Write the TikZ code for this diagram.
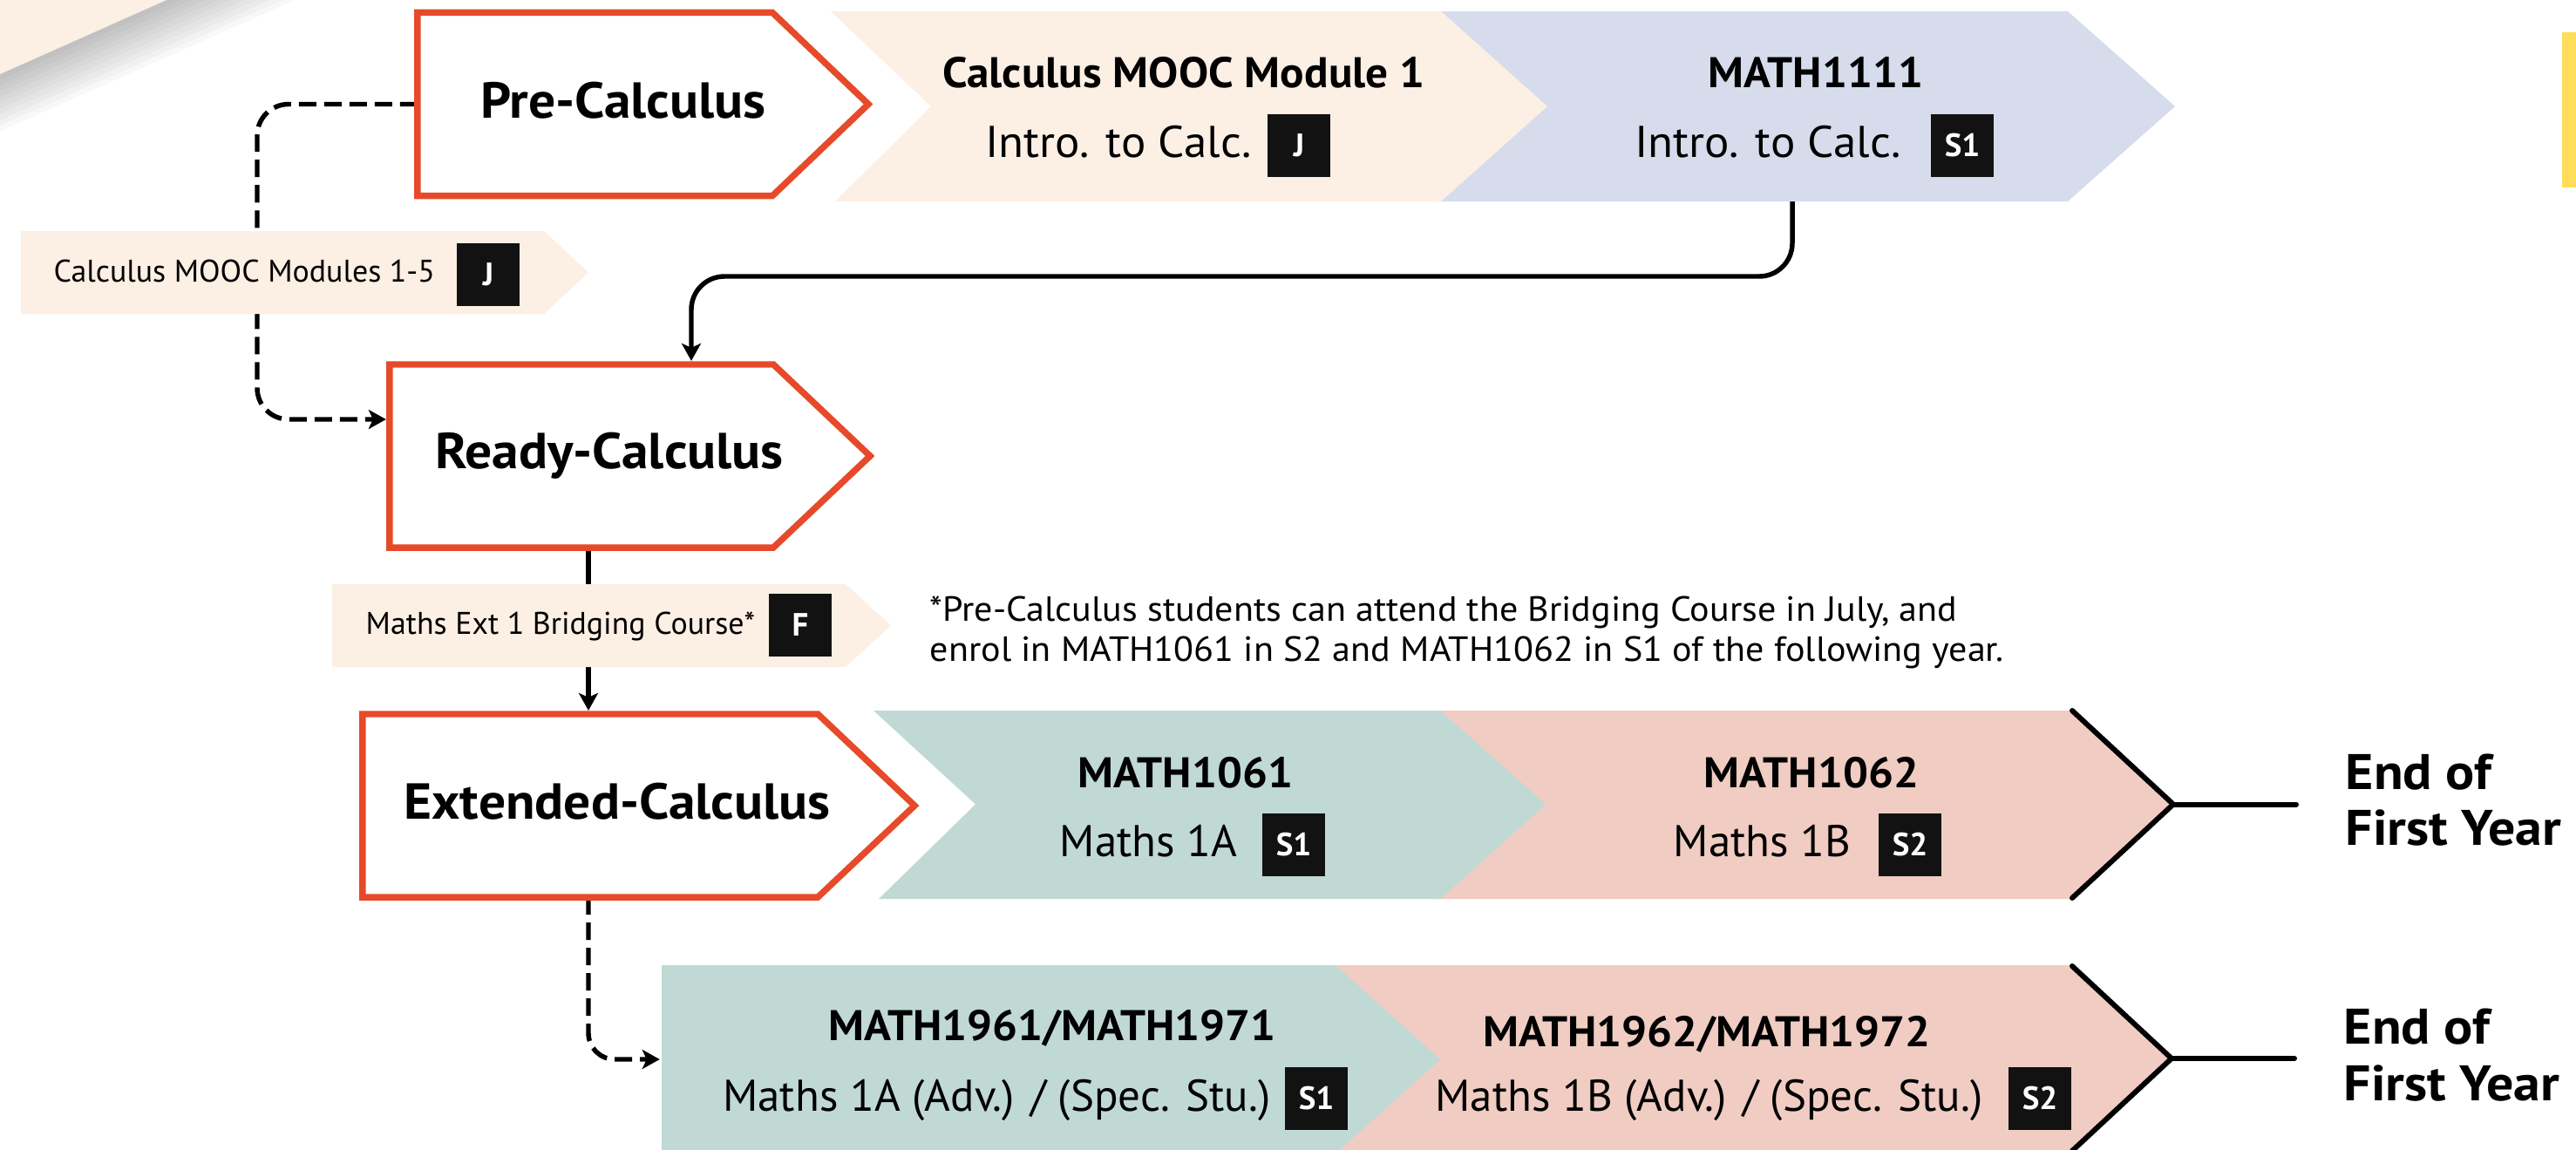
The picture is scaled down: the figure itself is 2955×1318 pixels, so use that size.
\documentclass[tikz,border=0pt]{standalone}
\usepackage{fontspec}
\usepackage{graphicx}
\setmainfont{PT Sans}
\usetikzlibrary{arrows.meta,calc}
\definecolor{ored}{HTML}{E64A2A}
\definecolor{peachc}{HTML}{FCEFE4}
\definecolor{lavc}{HTML}{D6DCEC}
\definecolor{tealc}{HTML}{C0D9D4}
\definecolor{pinkc}{HTML}{F0CCC3}
\definecolor{badgec}{HTML}{121212}
\definecolor{yelc}{HTML}{FFDD5A}
\newcommand{\hsc}[2]{\scalebox{#1}[1]{#2}}
\tikzset{
  boxnode/.style={draw=none, inner sep=0pt, outer sep=0pt, rectangle},
  obox/.style={draw=ored, line width=2.1pt, fill=white, line join=miter},
  bigl/.style={font=\bfseries\fontsize{16.5}{19}\selectfont, anchor=base, inner sep=0pt},
  ctitle/.style={font=\bfseries\fontsize{14}{16}\selectfont, anchor=base, inner sep=0pt},
  csub/.style={font=\fontsize{14.5}{17}\selectfont, anchor=base east, inner sep=0pt},
  smallt/.style={font=\fontsize{10.2}{12}\selectfont, anchor=base west, inner sep=0pt},
  notet/.style={font=\fontsize{11.4}{13}\selectfont, anchor=base west, inner sep=0pt},
  endt/.style={font=\bfseries\fontsize{16.3}{19}\selectfont, anchor=base west, inner sep=0pt},
  badge/.style={fill=badgec, text=white, font=\bfseries\fontsize{10.5}{12}\selectfont, minimum width=0.72cm, minimum height=0.72cm, inner sep=0pt},
  conn/.style={line width=1.55pt, -{Stealth[length=0.2cm,width=0.22cm,inset=0.05cm]}},
  dconn/.style={conn, dash pattern=on 0.2cm off 0.09cm},
  endline/.style={line width=1.7pt, line cap=round, line join=miter}
}
\begin{document}
\begin{tikzpicture}[x=0.01cm,y=-0.01cm]
\useasboundingbox (0,0) rectangle (2955,1318);
\clip (0,0) rectangle (2955,1318);

% top-left sheet and shadow
\foreach \d in {6,12,...,60}{
  \fill[black, opacity=0.028] (0,0) -- ({191+2.46*\d},0) -- (0,{85+1.094*\d}) -- cycle;
}
\fill[peachc] (0,0) -- (191,0) -- (0,85) -- cycle;

% yellow bar
\fill[yelc] (2939,37) rectangle (2955,215);

% box anchors (rectangular parts of the three level boxes)
\node[boxnode, minimum width=4.07cm, minimum height=2.10cm] (preBox) at (682.5,119.5) {};
\node[boxnode, minimum width=4.40cm, minimum height=2.10cm] (readyBox) at (667,523) {};
\node[boxnode, minimum width=5.22cm, minimum height=2.10cm] (extBox) at (677,924) {};
\node[boxnode, minimum width=7.19cm, minimum height=2.18cm] (m1111) at (2012.5,122) {};
\node[boxnode, minimum width=7.73cm, minimum height=2.16cm] (m1961) at (1145.5,1215) {};
\coordinate (xA) at (793,0);
\coordinate (xB) at (2056,0);
\coordinate (xC) at (675,0);

% connectors (behind ribbons and boxes)
\draw[dconn, rounded corners=0.36cm, shorten >=0.04cm] (preBox.west) -- (295,119.5) -- (295,481) -- (readyBox.west |- 0,481);
\draw[conn, rounded corners=0.38cm, shorten >=0.04cm] (m1111.south -| xB) -- (2056,317) -- (793,317) -- (readyBox.north -| xA);
\draw[conn, shorten >=0.04cm] (readyBox.south -| xC) -- (extBox.north -| xC);
\draw[dconn, rounded corners=0.3cm, shorten >=0.02cm] (extBox.south -| xC) -- (675,1215) -- (m1961.west);

% row 1 ribbons
\fill[lavc] (1640,13) -- (2372,13) -- (2495,122) -- (2372,231) -- (1640,231) -- cycle;
\fill[peachc] (953,13) -- (1653,13) -- (1775,122) -- (1653,231) -- (958,231) -- (1068,122) -- cycle;

% side ribbons
\fill[peachc] (24,265) -- (624,265) -- (675,312.5) -- (624,360) -- (24,360) -- cycle;
\fill[peachc] (381,670) -- (970,670) -- (1022,717.5) -- (970,765) -- (381,765) -- cycle;

% row 3 ribbons
\fill[pinkc] (1640,815) -- (2377,815) -- (2493,922.5) -- (2377,1031) -- (1640,1031) -- cycle;
\fill[tealc] (1002,815) -- (1652,815) -- (1773,922.5) -- (1652,1031) -- (1008,1031) -- (1119,922.5) -- cycle;
\coordinate (tipA) at (2493,922.5);
\draw[endline] (2377,815) -- (tipA) -- (2377,1030);
\draw[endline] (tipA) -- (2634,922.5);

% row 4 ribbons
\fill[pinkc] (1520,1107) -- (2377,1107) -- (2491,1214) -- (2377,1321) -- (1520,1330) -- cycle;
\fill[tealc] (759,1107) -- (1532,1107) -- (1652,1215) -- (1532,1323) -- (759,1330) -- cycle;
\coordinate (tipB) at (2491,1214);
\draw[endline] (2377,1108) -- (tipB) -- (2377,1320);
\draw[endline] (tipB) -- (2632,1214);

% level boxes
\draw[obox] (preBox.north west) -- (preBox.north east) -- ($(preBox.east)+(110,0)$) -- (preBox.south east) -- (preBox.south west) -- cycle;
\draw[obox] (readyBox.north west) -- (readyBox.north east) -- ($(readyBox.east)+(111,0)$) -- (readyBox.south east) -- (readyBox.south west) -- cycle;
\draw[obox] (extBox.north west) -- (extBox.north east) -- ($(extBox.east)+(111,0)$) -- (extBox.south east) -- (extBox.south west) -- cycle;

% level labels
\node[bigl] (preT) at (715,135) {\hsc{1.06}{Pre-Calculus}};
\node[bigl] (readyT) at (699,537) {\hsc{1.06}{Ready-Calculus}};
\node[bigl] (extT) at (708,939) {\hsc{1.06}{Extended-Calculus}};

% row 1 texts
\node[ctitle] (mod1T) at (1358,100) {\hsc{1.04}{Calculus MOOC Module 1}};
\node[csub] (mod1S) at (1436,180) {\hsc{1.04}{Intro. to Calc.}};
\node[badge] (mod1B) at (1490,167) {J};
\node[ctitle] (m1111T) at (2083,100) {\hsc{1.04}{MATH1111}};
\node[csub] (m1111S) at (2181,180) {\hsc{1.04}{Intro. to Calc.}};
\node[badge] (m1111B) at (2251,167) {S1};

% side ribbons texts
\node[smallt] (mods) at (61,323) {Calculus MOOC Modules 1-5};
\node[badge] (modsB) at (560,315) {J};
\node[smallt] (bridge) at (419,727) {Maths Ext 1 Bridging Course*};
\node[badge] (bridgeB) at (918,717) {F};

% footnote
\node[notet] (fnA) at (1066,712) {\hsc{1.05}{*Pre-Calculus students can attend the Bridging Course in July, and}};
\node[notet] (fnB) at (1066,758) {\hsc{1.05}{enrol in MATH1061 in S2 and MATH1062 in S1 of the following year.}};

% row 3 texts
\node[ctitle] (m1061T) at (1360,903) {\hsc{1.04}{MATH1061}};
\node[csub] (m1061S) at (1420,982) {Maths 1A};
\node[badge] (m1061B) at (1484,969) {S1};
\node[ctitle] (m1062T) at (2078,903) {\hsc{1.04}{MATH1062}};
\node[csub] (m1062S) at (2124,982) {Maths 1B};
\node[badge] (m1062B) at (2191,969) {S2};
\node[endt] (endA1) at (2690,905) {\hsc{1.08}{End of}};
\node[endt] (endA2) at (2690,969) {\hsc{1.08}{First Year}};

% row 4 texts
\node[ctitle] (m1961T) at (1207,1193) {\hsc{1.04}{MATH1961/MATH1971}};
\node[csub] (m1961S) at (1458,1274) {Maths 1A (Adv.) / (Spec. Stu.)};
\node[badge] (m1961B) at (1510,1260) {S1};
\node[ctitle] (m1962T) at (1958,1200) {\hsc{1.04}{MATH1962/MATH1972}};
\node[csub] (m1962S) at (2275,1274) {Maths 1B (Adv.) / (Spec. Stu.)};
\node[badge] (m1962B) at (2340,1260) {S2};
\node[endt] (endB1) at (2688,1197) {\hsc{1.08}{End of}};
\node[endt] (endB2) at (2688,1262) {\hsc{1.08}{First Year}};
\end{tikzpicture}
\end{document}
